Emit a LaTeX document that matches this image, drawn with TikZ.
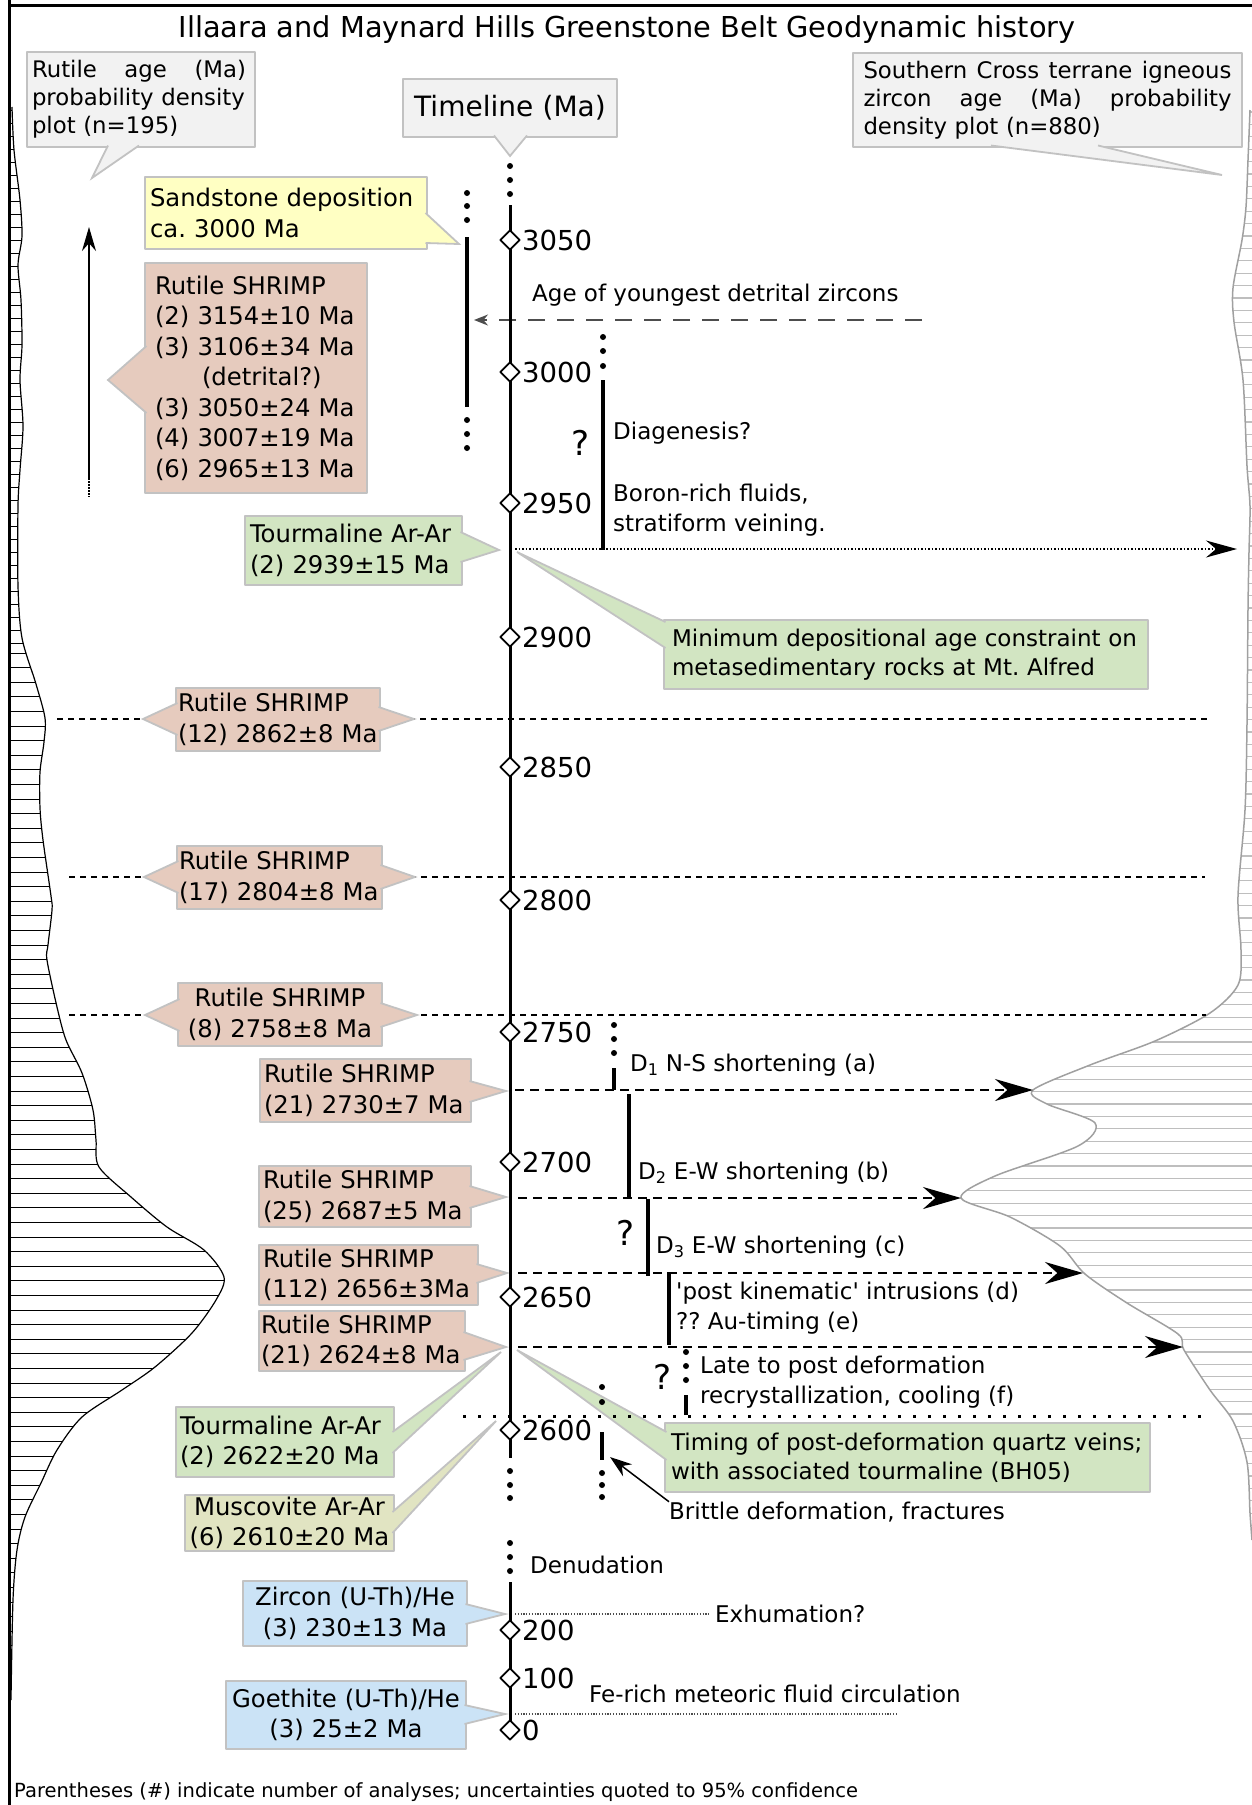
\documentclass[tikz,border=0pt]{standalone}
\usepackage{fontspec}
\setmainfont{DejaVu Sans}[Ligatures=TeXOff]
\usetikzlibrary{arrows.meta,shapes.geometric}
\frenchspacing

\definecolor{boxline}{HTML}{C2C2C2}
\definecolor{greyfill}{HTML}{F2F2F2}
\definecolor{rutfill}{HTML}{E6CBBE}
\definecolor{grnfill}{HTML}{D2E5C2}
\definecolor{yelfill}{HTML}{FFFFC3}
\definecolor{blufill}{HTML}{CBE3F6}
\definecolor{musfill}{HTML}{E1E4C2}
\definecolor{histline}{HTML}{A0A0A0}
\definecolor{histbin}{HTML}{BEBEBE}
\definecolor{darkdash}{HTML}{4D4D4D}

% callout pointer: fill colour, base point, tip, base point
\newcommand\ptr[4]{%
  \fill[#1] #2 -- #3 -- #4 -- cycle;
  \draw[boxline, line width=1.8pt, line join=miter] #2 -- #3 -- #4;}
% a line of text spread to a given width
\newcommand\spread[2]{\leavevmode\hbox to #1{#2}}

\tikzset{
  dbox/.style={draw=boxline, line width=1.8pt, inner xsep=5pt, inner ysep=0pt,
    align=left, font=\fontsize{24.3}{30.5}\selectfont},
  gbox/.style={dbox, fill=greyfill, font=\fontsize{22.8}{28}\selectfont},
  ann/.style={anchor=west, inner sep=0pt, align=left, font=\fontsize{23}{30}\selectfont},
  ticklab/.style={anchor=west, inner sep=0pt, font=\fontsize{27.5}{30}\selectfont},
  tickmark/.style={diamond, draw, fill=white, line width=1.8pt, inner sep=0pt,
    minimum width=20pt, minimum height=20pt},
  qmark/.style={inner sep=0pt, font=\fontsize{34}{36}\selectfont},
  bar/.style={line width=4pt},
  timeline/.style={line width=3pt},
  peakline/.style={line width=1.4pt, dash pattern=on 6pt off 5pt},
  dline/.style={line width=2pt, dash pattern=on 9pt off 6pt,
    -{Stealth[length=38pt,width=22pt]}},
  bigdots/.style={line width=3pt, dash pattern=on 3pt off 12pt},
  finedots/.style={line width=1.2pt, dash pattern=on 1.2pt off 1.6pt},
}

\begin{document}
\begin{tikzpicture}[x=1pt,y=-1pt,line join=round]
\useasboundingbox (0,0) rectangle (1252,1805);
\fill[white] (0,0) rectangle (1252,1805);

% ---------- rutile age probability density (left) ----------
\begin{scope}
\clip (9.5,107) -- plot[smooth] coordinates {(12,107) (14,150) (20,200) (22,236) (18,265) (21,300) (22,345) (20,380) (23,426) (20,470) (18,506) (18,586) (22,638) (36,684) (45,718) (44,742) (40,772) (40,808) (43,840) (51,896) (52,910) (48,945) (47,960) (57,1007) (66,1040) (82,1073) (93,1110) (96,1140) (99,1167) (131,1197) (167,1227) (204,1250) (224,1277) (216,1300) (192,1333) (155,1367) (122,1390) (82,1417) (57,1450) (41,1483) (25,1517) (17,1550) (13,1600) (11,1700)} -- (9.5,1700) -- cycle;
\foreach \y in {110,123,...,650} \draw[line width=1pt] (9.5,\y) -- (260,\y);
\foreach \y in {653,667.6,...,1700} \draw[line width=1pt] (9.5,\y) -- (260,\y);
\end{scope}
\draw[line width=1.2pt] plot[smooth] coordinates {(12,107) (14,150) (20,200) (22,236) (18,265) (21,300) (22,345) (20,380) (23,426) (20,470) (18,506) (18,586) (22,638) (36,684) (45,718) (44,742) (40,772) (40,808) (43,840) (51,896) (52,910) (48,945) (47,960) (57,1007) (66,1040) (82,1073) (93,1110) (96,1140) (99,1167) (131,1197) (167,1227) (204,1250) (224,1277) (216,1300) (192,1333) (155,1367) (122,1390) (82,1417) (57,1450) (41,1483) (25,1517) (17,1550) (13,1600) (11,1700)};

% ---------- igneous zircon probability density (right) ----------
\begin{scope}
\clip (1252,107) -- plot[smooth] coordinates {(1250,110) (1248,160) (1246,207) (1242,240) (1233,288) (1234,322) (1243,380) (1247,466) (1250,506) (1249,552) (1248,609) (1247,724) (1245,810) (1238,896) (1241,950) (1238,985) (1210,1013) (1155,1041) (1090,1065) (1033,1090) (1047,1104) (1095,1123) (1078,1146) (995,1176) (961,1198) (1010,1217) (1060,1246) (1085,1274) (1127,1303) (1178,1334) (1184,1350) (1210,1390) (1233,1421) (1247,1462) (1250,1513) (1252,1540)} -- (1252,1540) -- cycle;
\foreach \y in {112,124.4,...,1540} \draw[histbin, line width=1.2pt] (900,\y) -- (1252,\y);
\end{scope}
\draw[histline, line width=1.5pt] plot[smooth] coordinates {(1250,110) (1248,160) (1246,207) (1242,240) (1233,288) (1234,322) (1243,380) (1247,466) (1250,506) (1249,552) (1248,609) (1247,724) (1245,810) (1238,896) (1241,950) (1238,985) (1210,1013) (1155,1041) (1090,1065) (1033,1090) (1047,1104) (1095,1123) (1078,1146) (995,1176) (961,1198) (1010,1217) (1060,1246) (1085,1274) (1127,1303) (1178,1334) (1184,1350) (1210,1390) (1233,1421) (1247,1462) (1250,1513) (1252,1540)};

% ---------- frame ----------
\draw[line width=3pt] (9.5,0) -- (9.5,1805);
\draw[line width=3pt] (8,5) -- (1252,5);

% ---------- rutile peak lines (behind the labels) ----------
\coordinate (p1a) at (57,719);   \coordinate (p1b) at (1210,719);
\coordinate (p2a) at (69,877);   \coordinate (p2b) at (1205,877);
\coordinate (p3a) at (69,1015);  \coordinate (p3b) at (1206,1015);
\draw[peakline] (p1a) -- (p1b);
\draw[peakline] (p2a) -- (p2b);
\draw[peakline] (p3a) -- (p3b);

% ---------- title and plot captions ----------
\node[inner sep=0pt, font=\fontsize{28.8}{32}\selectfont] (title) at (627,30)
  {Illaara and Maynard Hills Greenstone Belt Geodynamic history};

\node[gbox, inner xsep=5pt, text width=218pt, minimum height=95pt] (rutpdp) at (141,99.5)
  {\spread{214pt}{Rutile\hfill age\hfill (Ma)}\\\mbox{probability density}\\\mbox{plot (n=195)}};
\ptr{greyfill}{(108,145.5)}{(92,178)}{(139,145.5)}

\node[gbox, inner xsep=10.5pt, text width=368pt, minimum height=94pt] (scpdp) at (1047.5,100)
  {\spread{368pt}{Southern\hfill Cross\hfill terrane\hfill igneous}\\\spread{368pt}{zircon\hfill age\hfill (Ma)\hfill probability}\\\mbox{density plot (n=880)}};
\ptr{greyfill}{(991,145.5)}{(1222,175)}{(1098,145.5)}

\node[gbox, align=center, text width=204pt, minimum height=58pt,
  font=\fontsize{28}{32}\selectfont] (tlbox) at (510,108) {Timeline (Ma)};
\ptr{greyfill}{(494,135.5)}{(510,156)}{(527,135.5)}

% ---------- data boxes ----------
\node[dbox, fill=yelfill, text width=272pt, minimum height=72pt] (sand) at (286,213)
  {Sandstone deposition\\ca. 3000 Ma};
\ptr{yelfill}{(425.5,213)}{(459,244)}{(425.5,243)}

\node[dbox, fill=rutfill, inner xsep=10pt, text width=202pt, minimum height=230pt] (rut1) at (256,378)
  {Rutile SHRIMP\\(2) 3154±10 Ma\\(3) 3106±34 Ma\\\hspace*{47pt}(detrital?)\\(3) 3050±24 Ma\\(4) 3007±19 Ma\\(6) 2965±13 Ma};
\ptr{rutfill}{(146.5,346)}{(108,380)}{(146.5,413)}

\node[dbox, fill=grnfill, text width=207pt, minimum height=69pt] (tour1) at (353.5,550.5)
  {Tourmaline Ar-Ar\\(2) 2939±15 Ma};
\ptr{grnfill}{(460.5,532)}{(499,550)}{(460.5,562)}

\node[dbox, fill=grnfill, inner xsep=8pt, text width=468pt, minimum height=69pt,
  font=\fontsize{23}{29}\selectfont] (mindep) at (906,654.5)
  {\mbox{Minimum depositional age constraint on}\\\mbox{metasedimentary rocks at Mt. Alfred}};
\ptr{grnfill}{(665.5,622)}{(517,552)}{(665.5,648)}

\node[dbox, fill=rutfill, inner xsep=2pt, text width=200pt, minimum height=63pt] (rut12) at (278,719.5)
  {Rutile SHRIMP\\(12) 2862±8 Ma};
\ptr{rutfill}{(177.5,703)}{(143,719)}{(177.5,735)}
\ptr{rutfill}{(378.5,707)}{(414,719)}{(378.5,731)}

\node[dbox, fill=rutfill, inner xsep=2pt, text width=201pt, minimum height=63pt] (rut17) at (279.5,877.5)
  {Rutile SHRIMP\\(17) 2804±8 Ma};
\ptr{rutfill}{(178.5,861)}{(144,877)}{(178.5,893)}
\ptr{rutfill}{(380.5,865)}{(415,877)}{(380.5,889)}

\node[dbox, fill=rutfill, align=center, inner xsep=2pt, text width=200pt, minimum height=63pt] (rut8) at (280,1014.5)
  {Rutile SHRIMP\\(8) 2758±8 Ma};
\ptr{rutfill}{(179.5,999)}{(145,1015)}{(179.5,1031)}
\ptr{rutfill}{(380.5,1003)}{(417,1015)}{(380.5,1027)}

\node[dbox, fill=rutfill, inner xsep=4pt, text width=203pt, minimum height=63pt] (rut21a) at (365.5,1090.5)
  {Rutile SHRIMP\\(21) 2730±7 Ma};
\ptr{rutfill}{(469.5,1081)}{(506,1091)}{(469.5,1102)}

\node[dbox, fill=rutfill, inner xsep=4pt, text width=204pt, minimum height=61pt] (rut25) at (365,1196.5)
  {Rutile SHRIMP\\(25) 2687±5 Ma};
\ptr{rutfill}{(469.5,1186)}{(506,1197)}{(469.5,1208)}

\node[dbox, fill=rutfill, inner xsep=4pt, text width=211pt, minimum height=60pt] (rut112) at (368.5,1275)
  {Rutile SHRIMP\\(112) 2656±3Ma};
\ptr{rutfill}{(476.5,1264)}{(507,1273)}{(476.5,1283)}

\node[dbox, fill=rutfill, inner xsep=2pt, text width=202pt, minimum height=60pt] (rut21b) at (362,1341)
  {Rutile SHRIMP\\(21) 2624±8 Ma};
\ptr{rutfill}{(463.5,1332)}{(506,1347)}{(463.5,1360)}

\node[dbox, fill=grnfill, inner xsep=4pt, text width=210pt, minimum height=70pt] (tour2) at (285,1442)
  {Tourmaline Ar-Ar\\(2) 2622±20 Ma};
\ptr{grnfill}{(392.5,1432)}{(501,1352)}{(392.5,1453)}

\node[dbox, fill=musfill, align=center, inner xsep=2pt, text width=205pt, minimum height=56pt] (musc) at (289.5,1523)
  {Muscovite Ar-Ar\\(6) 2610±20 Ma};
\ptr{musfill}{(392.5,1512)}{(496,1421)}{(392.5,1533)}

\node[dbox, fill=blufill, align=center, inner xsep=2pt, text width=220pt, minimum height=65pt] (zirc) at (355,1613.5)
  {Zircon (U-Th)/He\\(3) 230±13 Ma};
\ptr{blufill}{(465.5,1604)}{(505,1614)}{(465.5,1624)}

\node[dbox, fill=blufill, align=center, inner xsep=2pt, text width=236pt, minimum height=68pt] (goeth) at (346,1715)
  {Goethite (U-Th)/He\\(3) 25±2 Ma};
\ptr{blufill}{(464.5,1705)}{(505,1714)}{(464.5,1724)}

\node[dbox, fill=grnfill, inner xsep=6pt, text width=473pt, minimum height=69pt,
  font=\fontsize{23}{29}\selectfont] (timing) at (907.5,1457.5)
  {\mbox{Timing of post-deformation quartz veins;}\\\mbox{with associated tourmaline (BH05)}};
\ptr{grnfill}{(666.5,1432)}{(517,1350)}{(666.5,1460)}

% ---------- event lines to the right ----------
\coordinate (ayz0) at (922,320);  \coordinate (ayz1) at (474,320);
\draw[darkdash, line width=1.5pt, dash pattern=on 17pt off 12pt,
  -{Stealth[length=14pt,width=11pt]}] (ayz0) -- (ayz1);

\coordinate (tm0) at (515,549);  \coordinate (tm1) at (1237,549);
\draw[line width=1.5pt, dash pattern=on 1.5pt off 2pt,
  -{Stealth[length=31pt,width=17pt]}] (tm0) -- (tm1);

\coordinate (d1a) at (515,1090);  \coordinate (d1b) at (1033,1090);
\coordinate (d2a) at (518,1198);  \coordinate (d2b) at (961,1198);
\coordinate (d3a) at (518,1273);  \coordinate (d3b) at (1083,1273);
\coordinate (d4a) at (518,1347);  \coordinate (d4b) at (1183,1347);
\draw[dline] (d1a) -- (d1b);
\draw[dline] (d2a) -- (d2b);
\draw[dline] (d3a) -- (d3b);
\draw[dline] (d4a) -- (d4b);

\coordinate (lp0) at (463,1416);  \coordinate (lp1) at (1212,1416);
\draw[bigdots] (lp0) -- (lp1);

\coordinate (ex0) at (515,1614);  \coordinate (ex1) at (709,1614);
\draw[darkdash, finedots] (ex0) -- (ex1);
\coordinate (fe0) at (515,1714);  \coordinate (fe1) at (898,1714);
\draw[darkdash, finedots] (fe0) -- (fe1);

% ---------- vertical arrow beside the rutile plot ----------
\coordinate (va0) at (89,478);  \coordinate (va1) at (89,227);  \coordinate (va2) at (89,497);
\draw[line width=1.8pt, -{Stealth[length=24pt,width=14pt]}] (va0) -- (va1);
\draw[line width=1.8pt, dash pattern=on 1.5pt off 1.5pt] (va0) -- (va2);

% ---------- event bars ----------
\draw[bar] (467,237) -- (467,407);
\foreach \y in {193,206,220,420,434,448} \fill (467,\y) circle (3);
\draw[bar] (603,380) -- (603,550);
\foreach \y in {337,351,366} \fill (603,\y) circle (3);
\draw[bar] (614,1068) -- (614,1090);
\foreach \y in {1025,1039,1053} \fill (614,\y) circle (3);
\draw[bar] (628.5,1094) -- (628.5,1198);
\draw[bar] (648,1199) -- (648,1276);
\draw[bar] (669,1272) -- (669,1345);
\draw[bar] (686,1395) -- (686,1415);
\foreach \y in {1352,1366,1380} \fill (686,\y) circle (3);
\draw[bar] (602,1432) -- (602,1460);
\foreach \y in {1387,1402,1473,1485,1497} \fill (602,\y) circle (3);

% ---------- timeline ----------
\coordinate (tla) at (510,205);  \coordinate (tlb) at (510,1458);
\coordinate (tlc) at (510,1582); \coordinate (tld) at (510,1730);
\draw[timeline] (tla) -- (tlb);
\draw[timeline] (tlc) -- (tld);
\foreach \y in {166,180,194,1471,1485,1498,1543,1557,1571} \fill (510,\y) circle (3);
\foreach \a/\y in {3050/240,3000/372,2950/503,2900/637,2850/767,2800/900,2750/1032,2700/1162,2650/1297,2600/1430,200/1630,100/1678,0/1730}{
  \node[tickmark] (mk\a) at (510,\y) {};
  \node[ticklab] (lb\a) at (522,\y) {\a};
}

% ---------- annotations ----------
\node[ann] (ageyz) at (532,295) {Age of youngest detrital zircons};
\node[qmark] (q1) at (581,443) {?};
\node[ann] (diag) at (613,433) {Diagenesis?};
\node[ann] (boron) at (613,510) {Boron-rich fluids,\\stratiform veining.};
\node[ann] (d1txt) at (630,1065) {D\textsubscript{1} N-S shortening (a)};
\node[ann] (d2txt) at (638,1173) {D\textsubscript{2} E-W shortening (b)};
\node[qmark] (q2) at (626,1233) {?};
\node[ann] (d3txt) at (656,1247) {D\textsubscript{3} E-W shortening (c)};
\node[ann] (detxt) at (676,1308.5) {'post kinematic' intrusions (d)\\?? Au-timing (e)};
\node[qmark] (q3) at (663,1377) {?};
\node[ann] (ftxt) at (700,1382) {Late to post deformation\\recrystallization, cooling (f)};
\node[ann] (brittle) at (669,1512) {Brittle deformation, fractures};
\coordinate (brtip) at (610,1457);
\draw[line width=1.5pt, -{Stealth[length=22pt,width=15pt]}] (brittle.north west) -- (brtip);
\node[ann] (denud) at (530,1565) {Denudation};
\node[ann] (exh) at (715,1614) {Exhumation?};
\node[ann] (ferich) at (589,1694) {Fe-rich meteoric fluid circulation};

\node[anchor=west, inner sep=0pt, font=\fontsize{19.5}{22}\selectfont] (foot) at (14,1792)
  {Parentheses (\#) indicate number of analyses; uncertainties quoted to 95\% confidence};
\end{tikzpicture}
\end{document}
